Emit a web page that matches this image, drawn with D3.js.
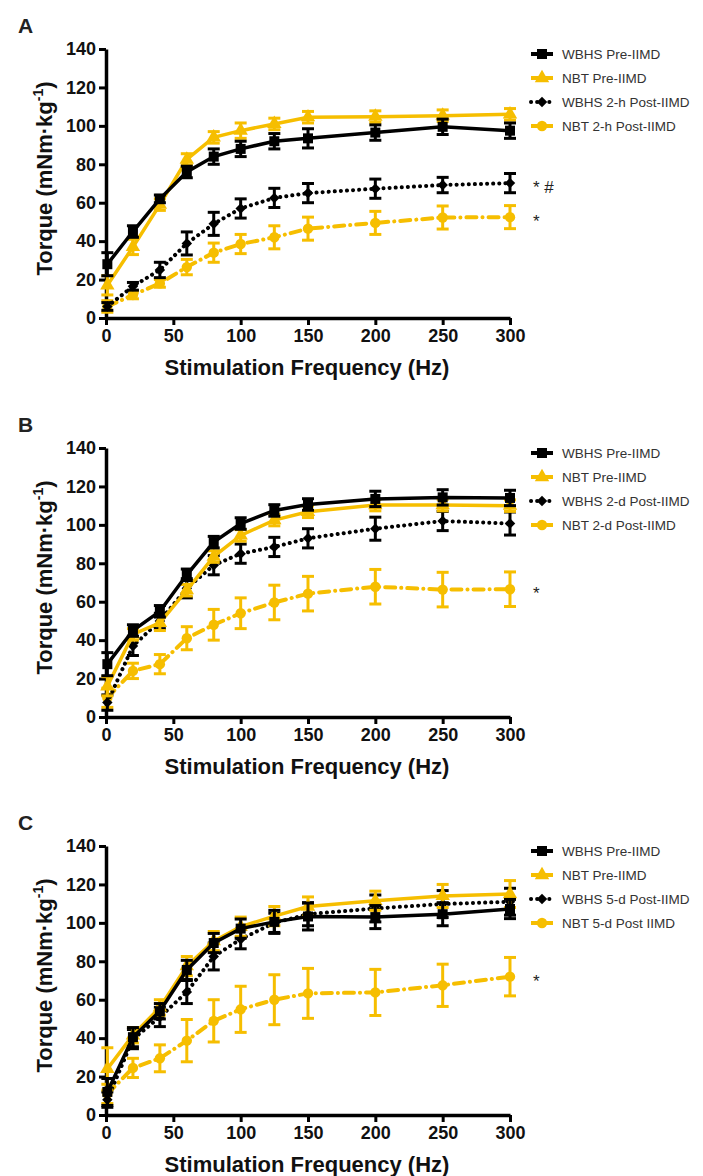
<!DOCTYPE html>
<html lang="en">
  <head>
    <meta charset="UTF-8" />
    <title>Torque-frequency curves</title>
    <script src="https://d3js.org/d3.v7.min.js"></script>
    <style>
      body {
        margin: 0;
        background: #fff;
        font-family: Arial, "Liberation Sans", sans-serif;
      }
    </style>
  </head>
  <body>
    <script>
      // Stimulation frequencies (Hz)
      const freqs = [1, 20, 40, 60, 80, 100, 125, 150, 200, 250, 300];
      const xTicks = [0, 50, 100, 150, 200, 250, 300];
      const yTicks = [0, 20, 40, 60, 80, 100, 120, 140];

      // Panel A (2-h)
      const aWbhsPre = [28, 45, 62, 76, 84, 88, 92, 93.5, 96.5, 99.5, 97.5];
      const aWbhsPreErr = [6, 3, 2, 3, 4, 4, 4, 5, 4, 4, 4];
      const aNbtPre = [17, 37, 59, 82.5, 94, 97.5, 101, 104.5, 104.8, 105.3, 106];
      const aNbtPreErr = [5, 4, 3, 3, 3, 4, 3, 3, 3, 3, 3];
      const aWbhsPost = [6, 16.5, 25, 38.8, 49, 57, 62.5, 65, 67.3, 69.2, 70.2];
      const aWbhsPostErr = [2, 2, 4, 6, 6, 5, 5, 5, 5, 4, 5];
      const aNbtPost = [6, 12, 18, 26.5, 34, 38.5, 42, 46.5, 49.5, 52.3, 52.5];
      const aNbtPostErr = [3, 2, 2, 4, 5, 5, 6, 6, 6, 6, 6];

      // Panel B (2-d)
      const bWbhsPre = [27.5, 45, 55, 74, 91, 100.7, 107.5, 110.6, 113.5, 114.3, 114];
      const bWbhsPreErr = [6, 3, 3, 3, 3, 3, 3, 3, 4, 4, 4];
      const bNbtPre = [16, 43, 49, 66, 83.5, 94.5, 102.5, 106.8, 110.3, 110.3, 110];
      const bNbtPreErr = [5, 3, 4, 3, 3, 3, 3, 3, 3, 3, 3];
      const bWbhsPost = [7.5, 37, 50, 67, 79, 85, 88.5, 93, 98, 102, 100.7];
      const bWbhsPostErr = [4, 5, 4, 5, 5, 5, 5, 5, 6, 5, 6];
      const bNbtPost = [10, 24, 27.5, 41, 48, 54, 59.6, 64.2, 67.8, 66.3, 66.5];
      const bNbtPostErr = [5, 4, 5, 6, 8, 8, 9, 9, 9, 9, 9];

      // Panel C (5-d)
      const cWbhsPre = [12, 40.5, 54, 75.5, 89.5, 97, 100.5, 103.3, 103, 104.5, 107.2];
      const cWbhsPreErr = [7, 5, 4, 5, 5, 5, 6, 7, 6, 6, 5];
      const cNbtPre = [24, 41.5, 56, 77.5, 90.5, 98, 103.5, 108.5, 111.5, 114, 115];
      const cNbtPreErr = [11, 4, 4, 5, 5, 5, 5, 5, 5, 6, 7];
      const cWbhsPost = [8, 39.5, 51, 64, 82.5, 91.5, 100, 104.5, 107.5, 109.8, 111];
      const cWbhsPostErr = [4, 5, 5, 6, 7, 5, 5, 6, 7, 7, 7];
      const cNbtPost = [11, 24.5, 29.5, 38.7, 49, 55, 60, 63.3, 63.8, 67.5, 72];
      const cNbtPostErr = [5, 5, 7, 11, 11, 12, 13, 13, 12, 11, 10];

      const legendA = ["WBHS Pre-IIMD", "NBT Pre-IIMD", "WBHS 2-h Post-IIMD", "NBT 2-h Post-IIMD"];
      const legendB = ["WBHS Pre-IIMD", "NBT Pre-IIMD", "WBHS 2-d Post-IIMD", "NBT 2-d Post-IIMD"];
      const legendC = ["WBHS Pre-IIMD", "NBT Pre-IIMD", "WBHS 5-d Post-IIMD", "NBT 5-d Post IIMD"];

      const BLACK = "#000";
      const GOLD = "#f6be00";

      // series styles in legend order
      const styles = [
        { color: BLACK, dash: null, legendDash: null, shape: d3.symbolSquare, size: 100 },
        { color: GOLD, dash: null, legendDash: null, shape: d3.symbolTriangle, size: 90 },
        { color: BLACK, dash: "0.1 6", legendDash: "0.1 6", shape: d3.symbolDiamond2, size: 70 },
        { color: GOLD, dash: "10 6 0.1 6", legendDash: null, shape: d3.symbolCircle, size: 85 },
      ];

      const panels = [
        {
          letter: "A", top: 49, legend: legendA,
          series: [[aWbhsPre, aWbhsPreErr], [aNbtPre, aNbtPreErr], [aWbhsPost, aWbhsPostErr], [aNbtPost, aNbtPostErr]],
          marks: [{ text: "* #", series: 2 }, { text: "*", series: 3 }],
        },
        {
          letter: "B", top: 448, legend: legendB,
          series: [[bWbhsPre, bWbhsPreErr], [bNbtPre, bNbtPreErr], [bWbhsPost, bWbhsPostErr], [bNbtPost, bNbtPostErr]],
          marks: [{ text: "*", series: 3 }],
        },
        {
          letter: "C", top: 846, legend: legendC,
          series: [[cWbhsPre, cWbhsPreErr], [cNbtPre, cNbtPreErr], [cWbhsPost, cWbhsPostErr], [cNbtPost, cNbtPostErr]],
          marks: [{ text: "*", series: 3 }],
        },
      ];

      const width = 703;
      const height = 1176;
      const left = 106;
      const plotW = 404;
      const plotH = 269;

      const svg = d3
        .select("body")
        .append("svg")
        .attr("width", width)
        .attr("height", height);

      const x = d3.scaleLinear().domain([0, 300]).range([left, left + plotW]);

      panels.forEach((p) => {
        const g = svg.append("g");
        const y = d3.scaleLinear().domain([0, 140]).range([p.top + plotH, p.top]);

        // panel letter
        g.append("text")
          .attr("x", 18)
          .attr("y", p.top - 16)
          .attr("font-size", 21)
          .attr("font-weight", "bold")
          .attr("fill", "#222")
          .text(p.letter);

        // axes
        const yAxis = g
          .append("g")
          .attr("transform", `translate(${left},0)`)
          .call(d3.axisLeft(y).tickValues(yTicks).tickSize(7).tickSizeOuter(0).tickPadding(3));
        const xAxis = g
          .append("g")
          .attr("transform", `translate(0,${p.top + plotH})`)
          .call(d3.axisBottom(x).tickValues(xTicks).tickSize(7).tickSizeOuter(0).tickPadding(4));
        [yAxis, xAxis].forEach((ax) => {
          ax.select(".domain").attr("stroke", BLACK).attr("stroke-width", 3.5);
          ax.selectAll(".tick line").attr("stroke", BLACK).attr("stroke-width", 3);
          ax.selectAll(".tick text")
            .attr("font-size", 18)
            .attr("font-weight", "bold")
            .attr("font-family", "Arial, 'Liberation Sans', sans-serif")
            .attr("fill", "#111");
        });

        // axis titles
        g.append("text")
          .attr("x", left + plotW / 2 - 1)
          .attr("y", p.top + plotH + 57)
          .attr("text-anchor", "middle")
          .attr("font-size", 22)
          .attr("font-weight", "bold")
          .attr("fill", "#111")
          .text("Stimulation Frequency (Hz)");

        const yt = g
          .append("text")
          .attr("transform", `translate(52,${p.top + plotH / 2 - 5}) rotate(-90)`)
          .attr("text-anchor", "middle")
          .attr("font-size", 22)
          .attr("font-weight", "bold")
          .attr("fill", "#111");
        yt.append("tspan").text("Torque (mNm·kg");
        yt.append("tspan").attr("font-size", 14).attr("dy", -9).text("-1");
        yt.append("tspan").attr("dy", 9).text(")");

        // series, drawn back to front
        [3, 2, 1, 0].forEach((si) => {
          const [vals, errs] = p.series[si];
          const st = styles[si];
          const pts = freqs.map((f, i) => ({ f, v: vals[i], e: errs[i] }));
          const sg = g.append("g");

          sg.append("path")
            .datum(pts)
            .attr("fill", "none")
            .attr("stroke", st.color)
            .attr("stroke-width", st.dash ? 4 : 3.5)
            .attr("stroke-linecap", st.dash ? "round" : "butt")
            .attr("stroke-dasharray", st.dash)
            .attr("d", d3.line().x((d) => x(d.f)).y((d) => y(d.v)));

          const eb = sg.selectAll(".eb").data(pts).enter().append("g");
          eb.append("line")
            .attr("x1", (d) => x(d.f)).attr("x2", (d) => x(d.f))
            .attr("y1", (d) => y(d.v - d.e)).attr("y2", (d) => y(d.v + d.e))
            .attr("stroke", st.color).attr("stroke-width", 3);
          [-1, 1].forEach((sgn) => {
            eb.append("line")
              .attr("x1", (d) => x(d.f) - 6).attr("x2", (d) => x(d.f) + 6)
              .attr("y1", (d) => y(d.v + sgn * d.e)).attr("y2", (d) => y(d.v + sgn * d.e))
              .attr("stroke", st.color).attr("stroke-width", 3);
          });

          sg.selectAll(".pt").data(pts).enter().append("path")
            .attr("transform", (d) => `translate(${x(d.f)},${y(d.v)})`)
            .attr("d", d3.symbol().type(st.shape).size(st.size))
            .attr("fill", st.color);
        });

        // significance marks
        p.marks.forEach((m) => {
          const v = p.series[m.series][0][freqs.length - 1];
          g.append("text")
            .attr("x", 533)
            .attr("y", y(v) + 10)
            .attr("font-size", 17)
            .attr("fill", "#222")
            .text(m.text);
        });

        // legend
        p.legend.forEach((label, i) => {
          const st = styles[i];
          const ly = p.top + 5 + i * 24;
          const lg = g.append("g");
          lg.append("line")
            .attr("x1", 531).attr("x2", 553)
            .attr("y1", ly).attr("y2", ly)
            .attr("stroke", st.color)
            .attr("stroke-width", 4)
            .attr("stroke-linecap", st.legendDash ? "round" : "butt")
            .attr("stroke-dasharray", st.legendDash);
          lg.append("path")
            .attr("transform", `translate(542,${ly})`)
            .attr("d", d3.symbol().type(st.shape).size(st.size))
            .attr("fill", st.color);
          lg.append("text")
            .attr("x", 562)
            .attr("y", ly + 4.5)
            .attr("font-size", 13.5)
            .attr("fill", "#333")
            .text(label);
        });
      });
    </script>
  </body>
</html>
